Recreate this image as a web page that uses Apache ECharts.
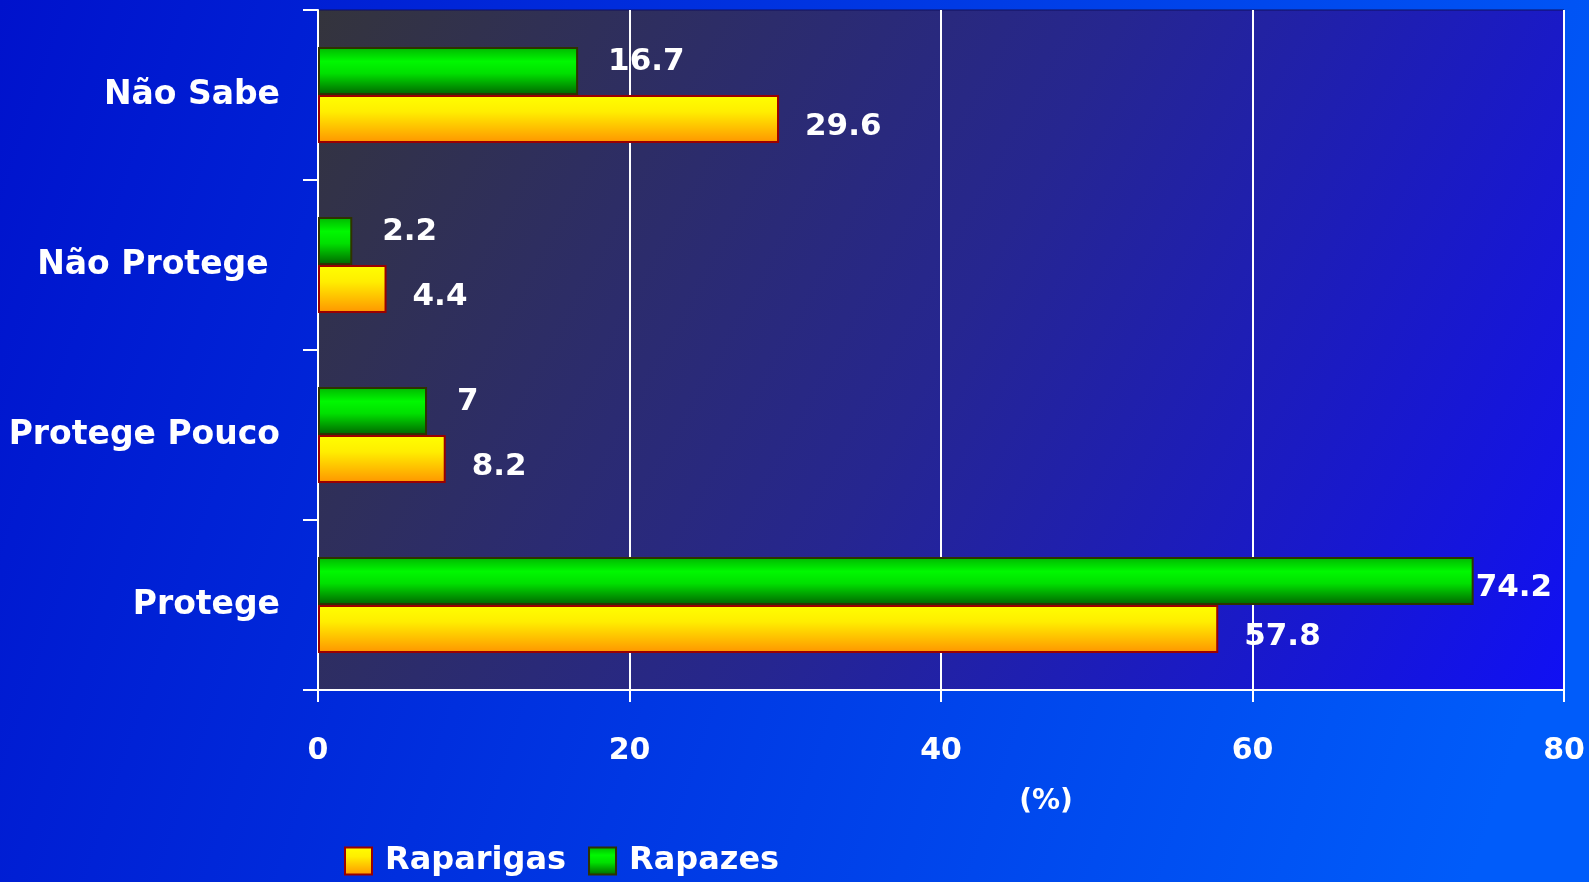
<!DOCTYPE html>
<html>
<head>
<meta charset="utf-8">
<script src="https://cdn.jsdelivr.net/npm/echarts@6/dist/echarts.min.js"></script>
<style>
  html, body { margin: 0; padding: 0; }
  #chart { width: 1589px; height: 882px; }
</style>
</head>
<body>
<div id="chart"></div>
<script>
var categories = ['Protege', 'Protege Pouco', 'Não Protege ', 'Não Sabe'];
var raparigas = [57.8, 8.2, 4.4, 29.6];
var rapazes = [74.2, 7, 2.2, 16.7];
var xTicks = [0, 80, 20]; // min, max, interval

var font = 'DejaVu Sans';

var myChart = echarts.init(document.getElementById('chart'));

var orangeFill = new echarts.graphic.LinearGradient(0, 0, 0, 1, [
    {offset: 0, color: '#ffff00'},
    {offset: 0.35, color: '#ffee00'},
    {offset: 1, color: '#ff9400'}
]);
var greenFill = new echarts.graphic.LinearGradient(0, 0, 0, 1, [
    {offset: 0, color: '#00b400'},
    {offset: 0.3, color: '#00f800'},
    {offset: 0.55, color: '#00e000'},
    {offset: 1, color: '#006400'}
]);

// nudge labels up/down, and if one runs past the edge tuck it against its bar
function labelNudge(dy) {
    return function (params) {
        var r = params.labelRect;
        var out = {dy: dy};
        if (r.x + r.width > myChart.getWidth() - 20) {
            out.x = params.rect.x + params.rect.width + 2;
        }
        return out;
    };
}

var option = {
    backgroundColor: new echarts.graphic.LinearGradient(0, 0, 1, 0.6, [
        {offset: 0, color: '#0012cc'},
        {offset: 1, color: '#005cfa'}
    ]),
    textStyle: {fontFamily: font},
    grid: {
        left: 318,
        right: 25,
        top: 10,
        bottom: 192,
        show: true,
        borderColor: '#101060',
        borderWidth: 1,
        backgroundColor: new echarts.graphic.LinearGradient(0, 0, 1, 1, [
            {offset: 0, color: '#34343c'},
            {offset: 0.5, color: '#262690'},
            {offset: 1, color: '#1010f4'}
        ])
    },
    legend: {
        data: ['Raparigas', 'Rapazes'],
        left: 339,
        top: 840,
        icon: 'rect',
        itemWidth: 27,
        itemHeight: 27,
        itemGap: 22,
        textStyle: {color: '#fff', fontSize: 32, fontWeight: 'bold', fontFamily: font, padding: [0, 0, 0, 8]}
    },
    xAxis: {
        type: 'value',
        min: xTicks[0],
        max: xTicks[1],
        interval: xTicks[2],
        name: '(%)',
        nameLocation: 'middle',
        nameGap: 98,
        nameTextStyle: {color: '#fff', fontSize: 28, fontWeight: 'bold', padding: [0, 0, 0, 210]},
        axisLine: {show: true, lineStyle: {color: '#fff', width: 2}},
        axisTick: {show: true, length: 12, lineStyle: {color: '#fff', width: 2}},
        axisLabel: {color: '#fff', fontSize: 30, fontWeight: 'bold', margin: 46},
        splitLine: {show: true, lineStyle: {color: '#fff', width: 2}}
    },
    yAxis: {
        type: 'category',
        data: categories,
        axisLine: {show: true, lineStyle: {color: '#fff', width: 2}},
        axisTick: {show: true, length: 15, lineStyle: {color: '#fff', width: 2}},
        axisLabel: {color: '#fff', fontSize: 33, fontWeight: 'bold', margin: 38},
        splitLine: {show: false}
    },
    series: [{
        name: 'Rapazes',
        type: 'bar',
        data: rapazes,
        barWidth: 48,
        barGap: '0%',
        itemStyle: {color: greenFill, borderColor: '#2e3300', borderWidth: 2},
        label: {
            show: true,
            position: 'right',
            distance: 30,
            color: '#fff',
            fontSize: 31,
            fontWeight: 'bold'
        },
        labelLayout: labelNudge(-9)
    }, {
        name: 'Raparigas',
        type: 'bar',
        data: raparigas,
        barWidth: 48,
        barGap: '0%',
        itemStyle: {color: orangeFill, borderColor: '#9a0000', borderWidth: 2},
        label: {
            show: true,
            position: 'right',
            distance: 26,
            color: '#fff',
            fontSize: 31,
            fontWeight: 'bold'
        },
        labelLayout: labelNudge(8)
    }]
};

myChart.setOption(option);
</script>
</body>
</html>
